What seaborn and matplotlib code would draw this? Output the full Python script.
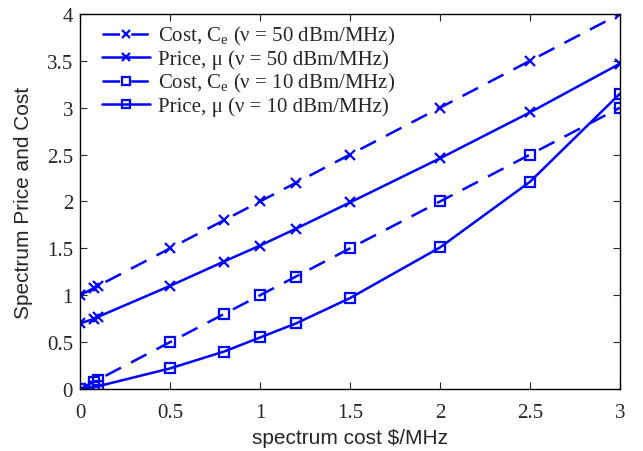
import matplotlib
matplotlib.use("Agg")
import matplotlib.pyplot as plt
import seaborn as sns
import pandas as pd

x_vals = [0, 0.08, 0.1, 0.5, 0.8, 1.0, 1.2, 1.5, 2.0, 2.5, 3.0]
cost_50 = [1.0, 1.08, 1.1, 1.5, 1.8, 2.0, 2.2, 2.5, 3.0, 3.5, 4.0]
price_50 = [0.70, 0.75, 0.77, 1.10, 1.36, 1.53, 1.71, 1.99, 2.46, 2.95, 3.47]
cost_10 = [0.0, 0.08, 0.1, 0.5, 0.8, 1.0, 1.2, 1.5, 2.0, 2.5, 3.0]
price_10 = [0.0, 0.02, 0.03, 0.22, 0.40, 0.55, 0.70, 0.97, 1.51, 2.21, 3.15]

labels = [
    r"Cost, C$_\mathrm{e}$ (ν = 50 dBm/MHz)",
    r"Price, μ (ν = 50 dBm/MHz)",
    r"Cost, C$_\mathrm{e}$ (ν = 10 dBm/MHz)",
    r"Price, μ (ν = 10 dBm/MHz)",
]
x_ticks = [0, 0.5, 1, 1.5, 2, 2.5, 3]
y_ticks = [0, 0.5, 1, 1.5, 2, 2.5, 3, 3.5, 4]

sns.set_style("ticks")
plt.rcParams["font.family"] = ["Liberation Serif", "DejaVu Serif"]
plt.rcParams["mathtext.fontset"] = "custom"
plt.rcParams["mathtext.rm"] = "Liberation Serif"
plt.rcParams["mathtext.it"] = "Liberation Serif:italic"

fig = plt.figure(figsize=(6.43, 4.52), dpi=100)
ax = fig.add_axes([0.1244, 0.137, 0.8398, 0.830])

series = [cost_50, price_50, cost_10, price_10]
markers = ["x", "x", "s", "s"]
dashed = [True, False, True, False]
blue = (0, 0, 1)
for vals, lab, mk in zip(series, labels, markers):
    df = pd.DataFrame({"x": x_vals, "y": vals})
    sns.lineplot(data=df, x="x", y="y", ax=ax, color=blue, linewidth=1.8,
                 label=lab, marker=mk, markersize=7.5, markeredgewidth=1.6,
                 markerfacecolor="none", markeredgecolor=blue)
for l, ds in zip(ax.get_lines(), dashed):
    if ds:
        l.set_dashes((7, 4.5))

ax.set_xlim(0, 3)
ax.set_ylim(0, 4)
ax.set_xticks(x_ticks)
ax.set_xticklabels([f"{t:g}" for t in x_ticks])
ax.set_yticks(y_ticks)
ax.set_yticklabels([f"{t:g}" for t in y_ticks])
ax.tick_params(direction="in", top=True, right=True, labelsize=15, length=5, width=0.8)
ax.tick_params(axis="x", pad=10)
ax.tick_params(axis="y", pad=5)
for sp in ax.spines.values():
    sp.set_linewidth(1.0)
    sp.set_color("black")
ax.set_xlabel(r"spectrum cost \$/MHz", family=["Liberation Sans"], fontsize=15, labelpad=4)
ax.set_ylabel("Spectrum Price and Cost", family=["Liberation Sans"], fontsize=15, labelpad=10)

handles, labs = ax.get_legend_handles_labels()
leg = ax.legend(handles, labs, loc="upper left", frameon=False, fontsize=15,
                handlelength=2.3, handletextpad=0.4, labelspacing=0.1, markerscale=0.75,
                borderaxespad=0.0, borderpad=0.0, bbox_to_anchor=(0.041, 0.972))

fig.savefig("out.png", dpi=100)
